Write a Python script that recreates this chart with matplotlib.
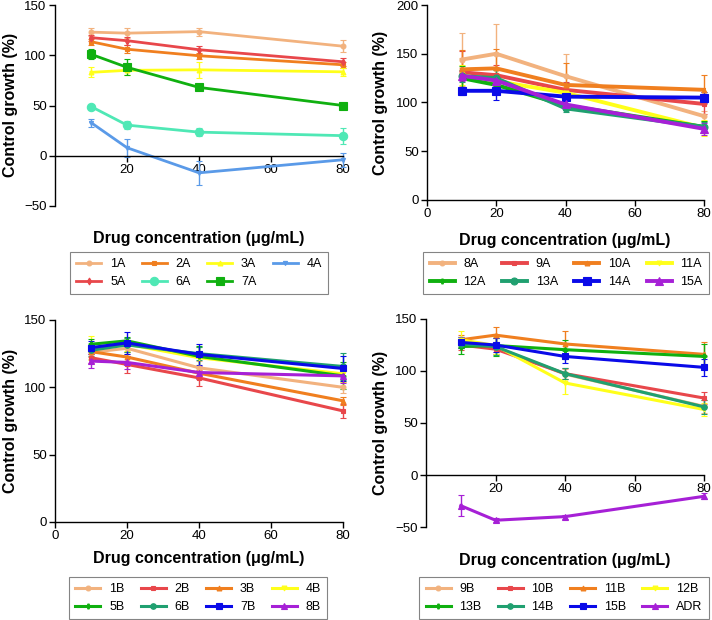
import matplotlib
matplotlib.use("Agg")
import matplotlib.pyplot as plt
from matplotlib.lines import Line2D

plt.rcParams['font.family'] = ['Liberation Sans', 'DejaVu Sans']

conc = [10, 20, 40, 80]

# ---- Panel A (top-left) ----
labels_tl = ['1A', '2A', '3A', '4A', '5A', '6A', '7A']
vals_tl = {
    '1A': [123, 122, 123.5, 109],
    '2A': [113.5, 106, 99.5, 90.5],
    '3A': [83, 85, 85.5, 83.5],
    '4A': [33, 8, -17, -4],
    '5A': [117.5, 114.5, 105.5, 93.5],
    '6A': [49, 30.5, 23.5, 20],
    '7A': [101, 88, 68, 50],
}
errs_tl = {
    '1A': [4, 5, 4, 6],
    '2A': [3, 4, 3, 3],
    '3A': [5, 5, 8, 4],
    '4A': [4, 9, 12, 7],
    '5A': [3, 4, 4, 4],
    '6A': [1, 4, 4, 8],
    '7A': [5, 8, 2, 1],
}

# ---- Panel B (top-right) ----
labels_tr = ['8A', '9A', '10A', '11A', '12A', '13A', '14A', '15A']
vals_tr = {
    '8A': [144, 150, 127, 86],
    '9A': [131, 128, 113, 98.5],
    '10A': [134, 135, 118, 113],
    '11A': [128, 122, 110, 74],
    '12A': [125, 118, 97, 75],
    '13A': [127, 125, 94, 75],
    '14A': [112, 112, 106, 105],
    '15A': [127.5, 122.5, 98, 73],
}
errs_tr = {
    '8A': [27, 31, 23, 5],
    '9A': [22, 10, 8, 10],
    '10A': [20, 20, 23, 15],
    '11A': [10, 8, 6, 8],
    '12A': [12, 8, 5, 6],
    '13A': [6, 8, 4, 5],
    '14A': [4, 9, 14, 6],
    '15A': [5, 5, 5, 6],
}

# ---- Panel C (bottom-left) ----
labels_bl = ['1B', '2B', '3B', '4B', '5B', '6B', '7B', '8B']
vals_bl = {
    '1B': [126, 129, 114.5, 100],
    '2B': [122, 117, 107, 82.5],
    '3B': [126.5, 122.5, 110.5, 90],
    '4B': [129, 132, 122, 110],
    '5B': [132, 134.5, 123, 108.5],
    '6B': [127.5, 131.5, 125, 115.5],
    '7B': [129.5, 133, 124.5, 114],
    '8B': [119.5, 118.5, 111, 108.5],
}
errs_bl = {
    '1B': [5, 4, 5, 4],
    '2B': [4, 6, 6, 5],
    '3B': [4, 4, 4, 3],
    '4B': [9, 5, 8, 6],
    '5B': [4, 3, 8, 10],
    '6B': [4, 5, 5, 10],
    '7B': [5, 8, 8, 9],
    '8B': [5, 5, 5, 5],
}

# ---- Panel D (bottom-right) ----
labels_br = ['9B', '10B', '11B', '12B', '13B', '14B', '15B', 'ADR']
vals_br = {
    '9B': [128, 123, 97, 66],
    '10B': [125, 121, 97.5, 74],
    '11B': [130, 134.5, 126, 116],
    '12B': [130, 124.5, 88.5, 63],
    '13B': [123.5, 124.5, 120.5, 114],
    '14B': [126, 123.5, 97.5, 65.5],
    '15B': [127.5, 125, 114, 103.5],
    'ADR': [-29.5, -43.5, -40, -20.5],
}
errs_br = {
    '9B': [5, 5, 5, 6],
    '10B': [5, 5, 5, 6],
    '11B': [5, 8, 12, 12],
    '12B': [8, 8, 11, 6],
    '13B': [7, 10, 9, 12],
    '14B': [4, 8, 5, 7],
    '15B': [5, 7, 6, 8],
    'ADR': [10, 2, 2, 3],
}

TAN = '#F2B27E'
RED = '#E8474B'
ORANGE = '#F07F1F'
YELLOW = '#FFFF1A'
LBLUE = '#5A9AE8'
AQUA = '#4FE8B5'
GREEN = '#10B010'
TEAL = '#20A070'
BLUE = '#0A0AE8'
PURPLE = '#A620D6'

style_tl = {
    '1A': (TAN, 'o', 3.5), '2A': (ORANGE, 's', 3.5), '3A': (YELLOW, '^', 3.5),
    '4A': (LBLUE, 'v', 3), '5A': (RED, 'd', 3.5), '6A': (AQUA, 'o', 6),
    '7A': (GREEN, 's', 6),
}
style_tr = {
    '8A': (TAN, 'o', 3.5), '9A': (RED, 's', 3.5), '10A': (ORANGE, '^', 3.5),
    '11A': (YELLOW, 'v', 3.5), '12A': (GREEN, 'P', 3.5), '13A': (TEAL, 'o', 5),
    '14A': (BLUE, 's', 5.5), '15A': (PURPLE, '^', 5.5),
}
style_bl = {
    '1B': (TAN, 'o', 3.5), '2B': (RED, 's', 3.5), '3B': (ORANGE, '^', 3.5),
    '4B': (YELLOW, 'v', 3.5), '5B': (GREEN, 'P', 3.5), '6B': (TEAL, 'o', 4),
    '7B': (BLUE, 's', 4.5), '8B': (PURPLE, '^', 4.5),
}
style_br = {
    '9B': (TAN, 'o', 3.5), '10B': (RED, 's', 3.5), '11B': (ORANGE, '^', 3.5),
    '12B': (YELLOW, 'v', 3.5), '13B': (GREEN, 'P', 3.5), '14B': (TEAL, 'o', 4),
    '15B': (BLUE, 's', 4.5), 'ADR': (PURPLE, '^', 4.5),
}

W, H = 712, 620
fig = plt.figure(figsize=(W / 100, H / 100), dpi=100)


def px_axes(x0, x1, ytop, ybot):
    return fig.add_axes([x0 / W, 1 - ybot / H, (x1 - x0) / W, (ybot - ytop) / H])


TICK_FS = 9.5
LAB_FS = 11.5
LEG_FS = 9


def panel(ax, labels, vals, errs, styles, lw, ylim, yticks, xticks, zero_spine):
    handles = []
    for lab in labels:
        c, m, ms = styles[lab]
        ax.errorbar(conc, vals[lab], yerr=errs[lab], color=c, marker=m,
                    markersize=ms, markeredgewidth=0.8, linewidth=lw,
                    elinewidth=1, capsize=2, capthick=1, clip_on=False)
        handles.append(Line2D([], [], color=c, marker=m, markersize=ms,
                              markeredgewidth=0.8, linewidth=lw, label=lab))
    ax.set_xlim(0, 80)
    ax.set_ylim(*ylim)
    ax.set_yticks(yticks)
    ax.set_yticklabels([str(t).replace('-', '\u2212') for t in yticks])
    ax.set_xticks(xticks)
    ax.spines['top'].set_visible(False)
    ax.spines['right'].set_visible(False)
    if zero_spine:
        ax.spines['bottom'].set_position(('data', 0))
    for s in ('left', 'bottom'):
        ax.spines[s].set_linewidth(1)
    ax.tick_params(direction='out', length=4, width=1, labelsize=TICK_FS, pad=2)
    ax.patch.set_alpha(0)
    return handles


# top-left
ax1 = px_axes(55, 343, 5, 206)
h1 = panel(ax1, labels_tl, vals_tl, errs_tl, style_tl, 2.0, (-50, 150),
           [-50, 0, 50, 100, 150], [20, 40, 60, 80], True)
# top-right
ax2 = px_axes(427, 704, 5, 200)
h2 = panel(ax2, labels_tr, vals_tr, errs_tr, style_tr, 2.8, (0, 200),
           [0, 50, 100, 150, 200], [0, 20, 40, 60, 80], False)
# bottom-left
ax3 = px_axes(55, 343, 320, 522)
h3 = panel(ax3, labels_bl, vals_bl, errs_bl, style_bl, 2.2, (0, 150),
           [0, 50, 100, 150], [0, 20, 40, 60, 80], False)
# bottom-right
ax4 = px_axes(426, 704, 319, 527)
h4 = panel(ax4, labels_br, vals_br, errs_br, style_br, 2.2, (-50, 150),
           [-50, 0, 50, 100, 150], [20, 40, 60, 80], True)

# axis labels
for (cx, cy) in [(199, 239), (565, 240), (199, 559), (565, 560)]:
    fig.text(cx / W, 1 - cy / H, 'Drug concentration (\u03bcg/mL)', ha='center',
             va='center', fontsize=LAB_FS, fontweight='bold')
for (cx, cy) in [(11, 105), (380, 103), (11, 421), (380, 423)]:
    fig.text(cx / W, 1 - cy / H, 'Control growth (%)', ha='center', va='center',
             rotation=90, fontsize=LAB_FS, fontweight='bold')


def row_major(handles, ncol=4):
    nrow = -(-len(handles) // ncol)
    rows = [handles[i * ncol:(i + 1) * ncol] for i in range(nrow)]
    out = []
    for c in range(ncol):
        for r in rows:
            if c < len(r):
                out.append(r[c])
    return out


# legends
for hs, (cx, ty) in [(h1, (199, 252)), (h2, (566, 252)), (h3, (198, 577)), (h4, (564, 577))]:
    hs = row_major(hs)
    leg = fig.legend(handles=hs, loc='upper center', bbox_to_anchor=(cx / W, 1 - ty / H),
                     ncol=4, fontsize=LEG_FS, frameon=True, fancybox=False,
                     edgecolor='#666666', handlelength=2.0, columnspacing=1.3,
                     handletextpad=0.7, borderpad=0.5, labelspacing=0.45,
                     borderaxespad=0)
    leg.get_frame().set_linewidth(0.8)

fig.savefig('out.png', dpi=100)
